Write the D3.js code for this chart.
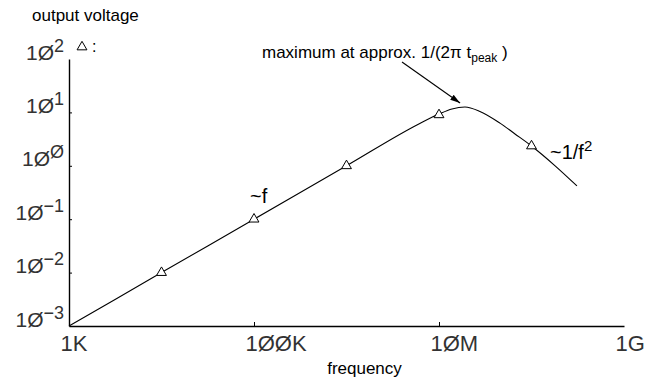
<!DOCTYPE html>
<html>
<head>
<meta charset="utf-8">
<script src="https://cdn.jsdelivr.net/npm/d3@7"></script>
<style>
  body { margin: 0; background: #fff; }
  svg { display: block; }
  .num { font-family: "Liberation Sans Narrow", "Liberation Sans", Arial, sans-serif; fill: #333; }
  .lbl { font-family: "Liberation Sans", Arial, sans-serif; fill: #000; }
</style>
</head>
<body>
<svg id="chart" width="651" height="379"></svg>
<script>
// curve (frequency, output voltage)
const curveFreq = [1e3, 1e4, 1e5, 1e6, 6.2e6, 1e7, 1.38e7, 1.91e7, 2.77e7, 4.56e7, 6.63e7, 1e8, 1.8e8, 3.1e8];
const curveVolt = [1e-3, 1e-2, 0.1, 1, 6.2, 9.3, 11.6, 12.6, 10.4, 6.3, 3.95, 2.35, 1.0, 0.42];

// triangle markers
const markFreq = [1e4, 1e5, 1e6, 1e7, 1e8];
const markVolt = [0.01, 0.1, 1, 9, 2.35];

// tick labels (the plotter draws zero as Ø)
const xTicks = [1e3, 1e5, 1e7, 1e9];
const xTickLabels = ["1K", "1ØØK", "1ØM", "1G"];
const yTicks = [1e-3, 1e-2, 1e-1, 1, 10, 100];
const yExponents = ["\u22123", "\u22122", "\u22121", "Ø", "1", "2"];

const svg = d3.select("#chart");

const x = d3.scaleLog().domain([1e3, 1e9]).range([69, 624]);
const y = d3.scaleLog().domain([1e-3, 1e2]).range([326, 59]);

// x axis, ticks point inwards
const gx = svg.append("g")
  .attr("transform", "translate(0," + y(1e-3) + ")")
  .call(d3.axisBottom(x).tickValues(xTicks).tickSize(-4).tickSizeOuter(0)
    .tickFormat((d, i) => xTickLabels[i]));
gx.attr("font-family", null).attr("font-size", null);
gx.select(".domain").attr("stroke-width", 1.4);
gx.selectAll(".tick line").filter(d => d === 1e3 || d === 1e9).remove();
gx.selectAll(".tick text")
  .attr("class", "num")
  .attr("font-size", 22)
  .attr("text-anchor", "start")
  .attr("x", -9)
  .attr("y", 25)
  .attr("dy", 0);

// y axis
const gy = svg.append("g")
  .attr("transform", "translate(" + x(1e3) + ",0)")
  .call(d3.axisLeft(y).tickValues(yTicks).tickSize(-3).tickSizeOuter(0).tickFormat(() => ""));
gy.attr("font-family", null).attr("font-size", null);
gy.select(".domain").attr("stroke-width", 1.4);
gy.selectAll(".tick line").filter(d => d === 1e-3 || d === 1e2).remove();
gy.selectAll(".tick text").each(function(d, i) {
  const t = d3.select(this)
    .attr("class", "num")
    .attr("font-size", 21)
    .attr("text-anchor", "end")
    .attr("x", -5)
    .attr("y", 0)
    .attr("dy", 0);
  t.append("tspan").text("1Ø");
  t.append("tspan").attr("font-size", 18).attr("dy", -8).text(yExponents[i]);
});

// curve
const pts = curveFreq.map((f, i) => [f, curveVolt[i]]);
const line = d3.line()
  .x(d => x(d[0]))
  .y(d => y(d[1]))
  .curve(d3.curveMonotoneX);
svg.append("path")
  .datum(pts)
  .attr("d", line)
  .attr("fill", "none")
  .attr("stroke", "#000")
  .attr("stroke-width", 1.1);

// markers
const tri = d3.symbol().type(d3.symbolTriangle).size(42);
svg.selectAll(".mark")
  .data(markFreq.map((f, i) => [f, markVolt[i]]))
  .join("path")
  .attr("class", "mark")
  .attr("d", tri)
  .attr("transform", d => "translate(" + x(d[0]) + "," + y(d[1]) + ")")
  .attr("fill", "#fff")
  .attr("stroke", "#000")
  .attr("stroke-width", 1);

// legend symbol
svg.append("path")
  .attr("d", tri)
  .attr("transform", "translate(82,47)")
  .attr("fill", "#fff")
  .attr("stroke", "#000");
svg.append("text").attr("class", "lbl").attr("x", 92).attr("y", 52)
  .attr("font-size", 16).text(":");

// axis titles
svg.append("text").attr("class", "lbl")
  .attr("x", 32).attr("y", 21).attr("font-size", 17)
  .text("output voltage");
svg.append("text").attr("class", "lbl")
  .attr("x", 364.5).attr("y", 374).attr("font-size", 17)
  .attr("text-anchor", "middle")
  .text("frequency");

// annotations
const ann = svg.append("text").attr("class", "lbl")
  .attr("x", 262).attr("y", 58).attr("font-size", 17);
ann.append("tspan").text("maximum at approx. 1/(2\u03c0 t");
ann.append("tspan").attr("font-size", 12).attr("dy", 4).text("peak");
ann.append("tspan").attr("dy", -4).text(" )");

svg.append("defs").append("marker")
  .attr("id", "arrow")
  .attr("markerUnits", "userSpaceOnUse")
  .attr("viewBox", "0 0 10 6")
  .attr("refX", 10).attr("refY", 3)
  .attr("markerWidth", 10).attr("markerHeight", 6)
  .attr("orient", "auto")
  .append("path")
  .attr("d", "M0,0L10,3L0,6Z")
  .attr("fill", "#000");

svg.append("line")
  .attr("x1", x(3.98e6)).attr("y1", y(88))
  .attr("x2", x(1.69e7)).attr("y2", y(15))
  .attr("stroke", "#000")
  .attr("stroke-width", 1.1)
  .attr("marker-end", "url(#arrow)");

svg.append("text").attr("class", "lbl")
  .attr("x", 250).attr("y", 203).attr("font-size", 20)
  .text("~f");

const fall = svg.append("text").attr("class", "lbl")
  .attr("x", 550).attr("y", 159).attr("font-size", 20);
fall.append("tspan").text("~1/f");
fall.append("tspan").attr("font-size", 15).attr("dy", -8).text("2");
</script>
</body>
</html>
